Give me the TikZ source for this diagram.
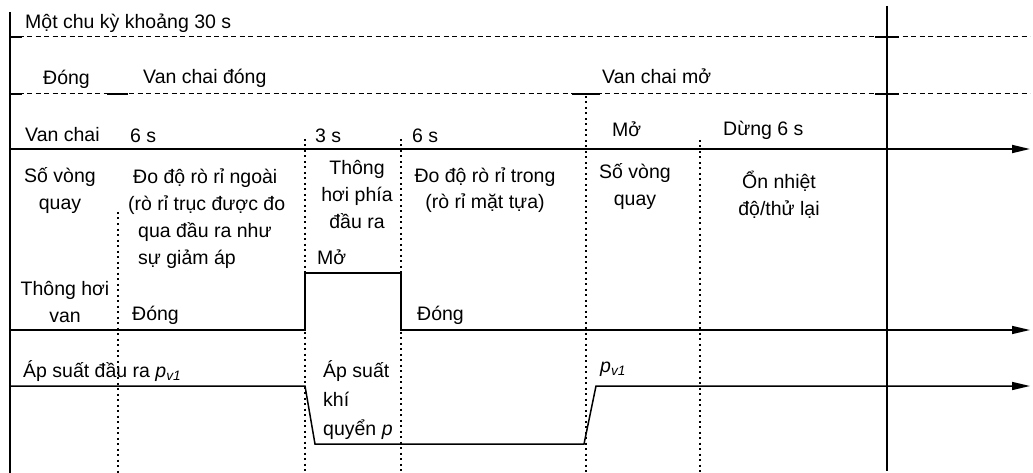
\documentclass[tikz,border=0pt]{standalone}
\usepackage{fontspec}
\setmainfont{Liberation Sans}
\usetikzlibrary{arrows.meta}

\begin{document}
\begin{tikzpicture}[x=1pt, y=-1pt, font=\fontsize{19.5}{27}\selectfont,
  lbl/.style={inner sep=0pt, anchor=base west},
  blk/.style={inner sep=0pt, anchor=base, align=center},
  ax/.style={line width=1.7pt},
  sig/.style={line width=1.5pt, -{Triangle[length=18pt, width=8pt]}},
  cyc/.style={line width=1pt, dash pattern=on 5pt off 3.5pt},
  solidbit/.style={line width=1.8pt},
  guide/.style={line width=1.2pt, dash pattern=on 2pt off 3.5pt}]
\useasboundingbox (0,0) rectangle (1033,473);
% frame: left axis and end of cycle
\coordinate (ltop) at (10,12);  \coordinate (lbot) at (10,473);
\coordinate (rtop) at (887,6);  \coordinate (rbot) at (887,471);
\draw[ax] (ltop) -- (lbot);
\draw[ax, line width=1.4pt] (rtop) -- (rbot);
% dashed ranges (cycle, valve)
\coordinate (c0) at (10,37); \coordinate (c1) at (1030,37);
\coordinate (d0) at (10,94); \coordinate (d1) at (1030,94);
\draw[cyc] (c0) -- (c1);
\draw[cyc] (d0) -- (d1);
\draw[solidbit] (10,37) -- (22,37);  \draw[solidbit] (875,37) -- (899,37);
\draw[solidbit] (10,94) -- (22,94);  \draw[solidbit] (107,94) -- (128,94);
\draw[solidbit] (572,94) -- (600,94); \draw[solidbit] (875,94) -- (899,94);
% time axis of the valve
\coordinate (a0) at (10,149); \coordinate (a1) at (1030,149);
\draw[sig, line width=1.8pt] (a0) -- (a1);
% phase boundaries
\foreach \x/\y in {118/212, 305/139, 401/139, 586/96, 700/140}
  \draw[guide] (\x,\y) -- (\x,473);
% vent signal
\coordinate (v0) at (10,330);  \coordinate (v1) at (305,330);
\coordinate (v2) at (305,273); \coordinate (v3) at (401,273);
\coordinate (v4) at (401,330); \coordinate (v5) at (1030,330);
\draw[sig] (v0) -- (v1) -- (v2) -- (v3) -- (v4) -- (v5);
% outlet pressure
\coordinate (p0) at (10,386);  \coordinate (p1) at (305,386);
\coordinate (p2) at (315,444); \coordinate (p3) at (584,444);
\coordinate (p4) at (596,386); \coordinate (p5) at (1030,386);
\draw[sig] (p0) -- (p1) -- (p2) -- (p3) -- (p4) -- (p5);
% labels, top rows
\node[lbl] (cycle) at (25,29) {Một chu kỳ khoảng 30 s};
\node[lbl] (shut)  at (43,85) {Đóng};
\node[lbl] (vshut) at (143,84) {Van chai đóng};
\node[lbl] (vopen) at (602,84) {Van chai mở};
\node[lbl] (valve) at (25,142) {Van chai};
\node[lbl] (s6a)   at (130,143) {6 s};
\node[lbl] (s3)    at (315,143) {3 s};
\node[lbl] (s6b)   at (412,143) {6 s};
\node[lbl] (open)  at (612,137) {Mở};
\node[lbl] (stop)  at (723,136) {Dừng 6 s};
% phase descriptions (base = last line)
\node[blk] (rpm1)  at (60,210)  {Số vòng\\quay};
\node[lbl, align=left] (outer) at (128,264)
  {\hspace*{5pt}Đo độ rò rỉ ngoài\\(rò rỉ trục được đo\\\hspace*{10pt}qua đầu ra như\\\hspace*{10pt}sự giảm áp};
\node[blk] (ventd) at (357,229) {Thông\\hơi phía\\đầu ra};
\node[blk] (inner) at (485,209) {Đo độ rò rỉ trong\\(rò rỉ mặt tựa)};
\node[blk] (rpm2)  at (635,205) {Số vòng\\quay};
\node[blk] (temp)  at (779,215) {Ổn nhiệt\\độ/thử lại};
% vent signal labels
\node[blk] (vent)  at (65,322)  {Thông hơi\\van};
\node[lbl] (vclo1) at (132,320) {Đóng};
\node[lbl] (vop)   at (317,264) {Mở};
\node[lbl] (vclo2) at (417,320) {Đóng};
% pressure labels
\node[lbl] (pout)  at (23,377) {Áp suất đầu ra \textit{p}\textsubscript{\textit{v1}}};
\node[lbl, align=left] (patm) at (323,435) {Áp suất\\[2pt]khí\\[2pt]quyển \textit{p}};
\node[lbl] (pv)    at (600,372) {\textit{p}\textsubscript{\textit{v1}}};
\end{tikzpicture}
\end{document}
